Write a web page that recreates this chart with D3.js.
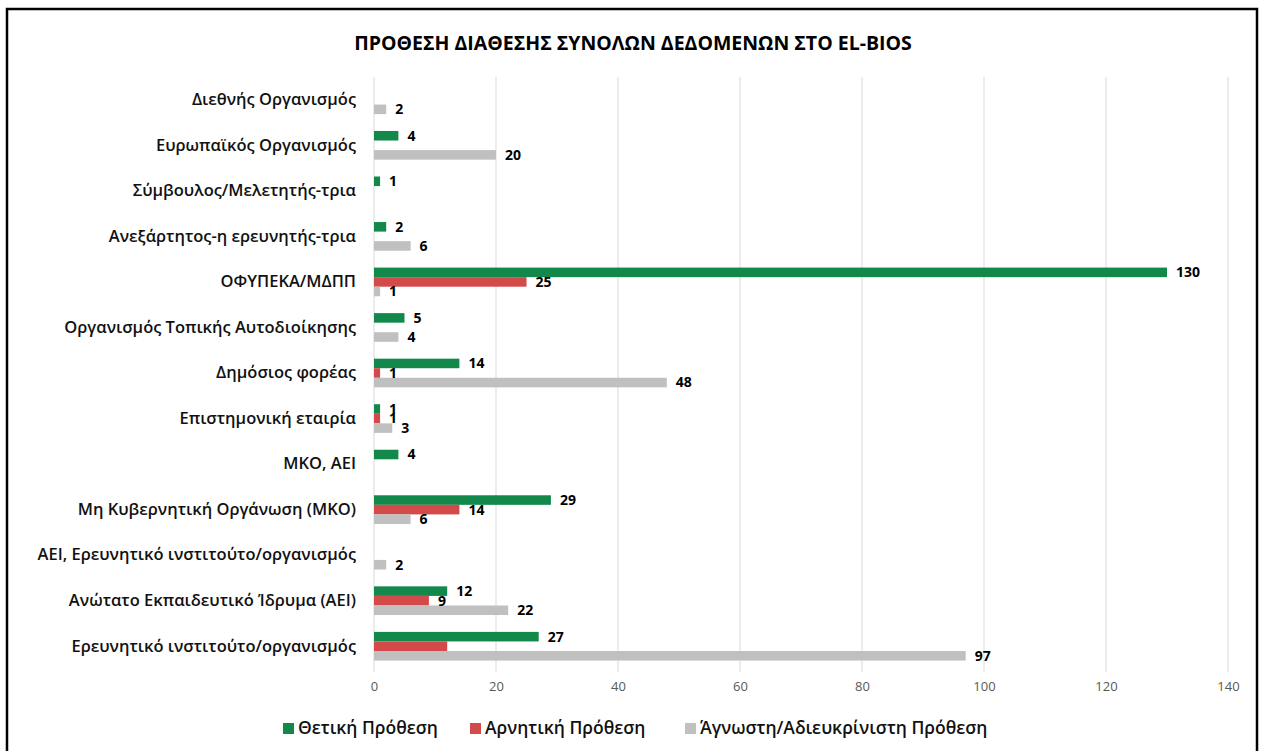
<!DOCTYPE html>
<html>
<head>
<meta charset="utf-8">
<script src="https://cdn.jsdelivr.net/npm/d3@7"></script>
<style>
  body { margin: 0; background: #fff; }
  svg text { font-family: "Open Sans", "Noto Sans", sans-serif; }
</style>
</head>
<body>
<div id="chart"></div>
<script>
// categories top to bottom
var categories = [
  "Διεθνής Οργανισμός",
  "Ευρωπαϊκός Οργανισμός",
  "Σύμβουλος/Μελετητής-τρια",
  "Ανεξάρτητος-η ερευνητής-τρια",
  "ΟΦΥΠΕΚΑ/ΜΔΠΠ",
  "Οργανισμός Τοπικής Αυτοδιοίκησης",
  "Δημόσιος φορέας",
  "Επιστημονική εταιρία",
  "ΜΚΟ, ΑΕΙ",
  "Μη Κυβερνητική Οργάνωση (ΜΚΟ)",
  "ΑΕΙ, Ερευνητικό ινστιτούτο/οργανισμός",
  "Ανώτατο Εκπαιδευτικό Ίδρυμα (ΑΕΙ)",
  "Ερευνητικό ινστιτούτο/οργανισμός"
];
var seriesNames = ["Θετική Πρόθεση", "Αρνητική Πρόθεση", "Άγνωστη/Αδιευκρίνιστη Πρόθεση"];
var positive = [0, 4, 1, 2, 130, 5, 14, 1, 4, 29, 0, 12, 27];
var negative = [0, 0, 0, 0, 25, 0, 1, 1, 0, 14, 0, 9, 12];
var unknown  = [2, 20, 0, 6, 1, 4, 48, 3, 0, 6, 2, 22, 97];
var xTicks = [0, 20, 40, 60, 80, 100, 120, 140];
var colors = ["#12894a", "#d24a4a", "#c0c0c0"];

var width = 1263, height = 751;
var svg = d3.select("#chart").append("svg")
  .attr("width", width)
  .attr("height", height);

// frame
svg.append("rect")
  .attr("x", 7).attr("y", 9)
  .attr("width", 1250).attr("height", 750)
  .attr("fill", "#fff")
  .attr("stroke", "#000")
  .attr("stroke-width", 2.5);

svg.append("text")
  .attr("x", 633).attr("y", 50)
  .attr("text-anchor", "middle")
  .attr("font-size", 19.5).attr("font-weight", "bold")
  .attr("fill", "#000")
  .text("ΠΡΟΘΕΣΗ ΔΙΑΘΕΣΗΣ ΣΥΝΟΛΩΝ ΔΕΔΟΜΕΝΩΝ ΣΤΟ EL-BIOS");

var x = d3.scaleLinear().domain([0, 140]).range([374, 1228]);
var y = d3.scaleBand().domain(categories).range([77, 669]).paddingInner(0.37).paddingOuter(0.185);
var ySub = d3.scaleBand().domain([0, 1, 2]).range([0, y.bandwidth()]);

// gridlines
svg.append("g").selectAll("line")
  .data(xTicks)
  .enter().append("line")
  .attr("x1", function(d) { return x(d); })
  .attr("x2", function(d) { return x(d); })
  .attr("y1", 77).attr("y2", 672)
  .attr("stroke", "#d9d9d9").attr("stroke-width", 1);

// x axis labels
var xAxis = svg.append("g")
  .attr("transform", "translate(0,680)")
  .call(d3.axisBottom(x).tickValues(xTicks).tickSize(0).tickPadding(2));
xAxis.select(".domain").remove();
xAxis.selectAll("text")
  .attr("font-size", 13).attr("fill", "#595959")
  .style("font-family", "'Open Sans', sans-serif");

// category labels
var yAxis = svg.append("g")
  .attr("transform", "translate(356,0)")
  .call(d3.axisLeft(y).tickSize(0).tickPadding(0));
yAxis.select(".domain").remove();
yAxis.selectAll("text")
  .attr("font-size", 16.5).attr("font-weight", 600).attr("fill", "#111")
  .style("font-family", "'Open Sans', sans-serif");

var table = [];
categories.forEach(function(c, i) {
  [positive[i], negative[i], unknown[i]].forEach(function(v, s) {
    table.push({cat: c, s: s, v: v});
  });
});

// red label of last category is hidden in the original
var hidden = function(d) { return d.cat == categories[12] && d.s == 1; };

svg.append("g").selectAll("rect")
  .data(table.filter(function(d) { return d.v > 0; }))
  .enter().append("rect")
  .attr("x", x(0))
  .attr("y", function(d) { return y(d.cat) + ySub(d.s); })
  .attr("width", function(d) { return x(d.v) - x(0); })
  .attr("height", ySub.bandwidth())
  .attr("fill", function(d) { return colors[d.s]; });

svg.append("g").selectAll("text")
  .data(table.filter(function(d) { return d.v > 0 && !hidden(d); }))
  .enter().append("text")
  .attr("x", function(d) { return x(d.v) + 9; })
  .attr("y", function(d) { return y(d.cat) + ySub(d.s) + ySub.bandwidth() / 2; })
  .attr("dy", "0.35em")
  .attr("font-size", 14).attr("font-weight", "bold")
  .attr("fill", "#000")
  .text(function(d) { return d.v; });

// legend
var legendX = [283, 470, 685];
var legend = svg.append("g").selectAll("g")
  .data(seriesNames)
  .enter().append("g")
  .attr("transform", function(d, i) { return "translate(" + legendX[i] + ",728)"; });
legend.append("rect")
  .attr("x", 0).attr("y", -5)
  .attr("width", 11).attr("height", 11)
  .attr("fill", function(d, i) { return colors[i]; });
legend.append("text")
  .attr("x", 15).attr("dy", "0.35em")
  .attr("font-size", 17.5).attr("font-weight", 600).attr("fill", "#111")
  .text(function(d) { return d; });
</script>
</body>
</html>
